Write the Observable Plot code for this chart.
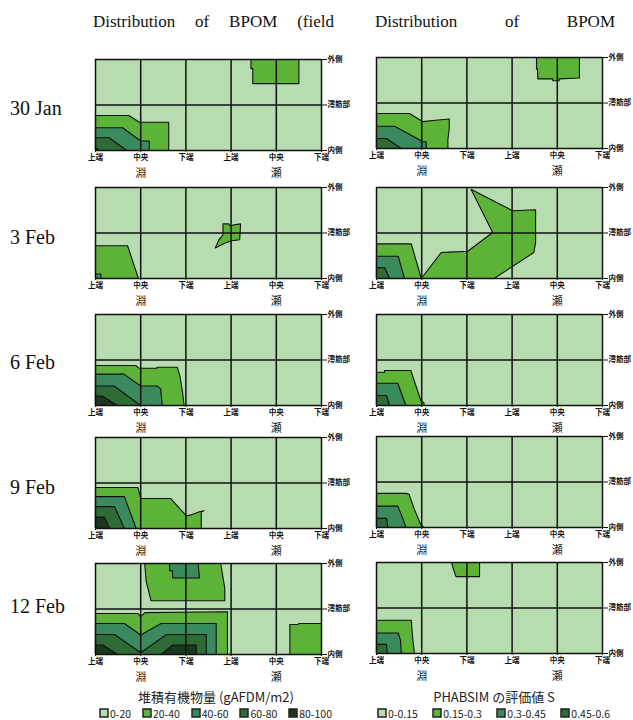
<!DOCTYPE html>
<html><head><meta charset="utf-8">
<script src="https://cdn.jsdelivr.net/npm/d3@7"></script>
<script src="https://cdn.jsdelivr.net/npm/@observablehq/plot@0.6"></script>
<style>
body{margin:0;background:#fff;}
#root{position:relative;width:633px;height:720px;overflow:hidden;font-family:"Liberation Serif",serif;color:#111;}
.panel{position:absolute;}
.title{position:absolute;display:flex;justify-content:space-between;font-size:17px;line-height:20px;}
.rowlab{position:absolute;left:10px;font-size:20px;line-height:24px;}
.legtitle{position:absolute;font-family:"Noto Sans CJK JP",sans-serif;font-size:13px;line-height:15px;text-align:center;color:#222;}
.legbox{position:absolute;font-family:"Noto Sans CJK JP",sans-serif;font-size:10.5px;color:#222;}
#root .lg-swatches{min-height:0 !important;margin:0 !important;height:14px;width:232px;justify-content:space-between;flex-wrap:nowrap;}
#root .lg-swatch{margin-right:0;}
#root .lg-swatch>svg{margin-right:2px;}
#root .lg-swatch rect{stroke:#222;stroke-width:1.5px;}
</style></head><body><div id="root"></div>
<script>
// ---------- labels ----------
const dates = ["30 Jan", "3 Feb", "6 Feb", "9 Feb", "12 Feb"];
const titleLeft = ["Distribution", "of", "BPOM", "(field"];
const titleRight = ["Distribution", "of", "BPOM"];
const xTickLabels = ["上端", "中央", "下端", "上端", "中央", "下端"];
const yTickLabels = ["内側", "澪筋部", "外側"];
const reachLabels = ["淵", "瀬"];
const reachTicks = [1, 4];
const bpomTitle = "堆積有機物量 (gAFDM/m2)";
const bpomLevels = ["0-20", "20-40", "40-60", "60-80", "80-100"];
const phabTitle = "PHABSIM の評価値 S";
const phabLevels = ["0-0.15", "0.15-0.3", "0.3-0.45", "0.45-0.6"];
const levelColors = ["#b7dcb0", "#5cb338", "#3a8a5e", "#2e6b36", "#1a381c"];

// ---------- contour regions (x: 0..5 along reach, y: 0 内側 .. 2 外側) ----------
const bpom30Jan = [
  {level: 1, pts: [[3.44,2],[4.5,2],[4.5,1.47],[3.48,1.47],[3.48,1.8],[3.44,1.8]]},
  {level: 1, pts: [[0,0],[0,0.77],[0.74,0.77],[0.97,0.62],[1.62,0.62],[1.62,0]]},
  {level: 2, pts: [[0,0],[0,0.5],[0.6,0.5],[1.0,0.21],[1.19,0.21],[1.19,0]]},
  {level: 3, pts: [[0,0],[0,0.28],[0.3,0.28],[0.69,0]]},
  {level: 4, pts: [[0,0],[0,0.06],[0.08,0]]}
];
const phab30Jan = [
  {level: 1, pts: [[3.54,2],[4.49,2],[4.49,1.55],[4.04,1.53],[4.04,1.49],[3.9,1.49],[3.9,1.53],[3.57,1.53],[3.56,1.75],[3.54,1.75]]},
  {level: 1, pts: [[0,0],[0,0.77],[0.73,0.77],[1.03,0.59],[1.3,0.62],[1.61,0.65],[1.61,0.45],[1.58,0.2],[1.58,0]]},
  {level: 2, pts: [[0,0],[0,0.49],[0.4,0.49],[1.03,0.15],[1.1,0.15],[1.1,0]]},
  {level: 3, pts: [[0,0],[0,0.22],[0.22,0.22],[0.55,0]]}
];
const bpom3Feb = [
  {level: 1, pts: [[2.82,1.2],[2.95,1.2],[2.97,1.16],[3.13,1.19],[3.21,1.2],[3.19,0.85],[3.02,0.83],[2.87,0.78],[2.65,0.67],[2.73,0.85],[2.82,0.96]]},
  {level: 1, pts: [[0,0],[0,0.72],[0.71,0.72],[0.95,0]]},
  {level: 2, pts: [[0,0],[0,0.1],[0.12,0.1],[0.12,0]]}
];
const phab3Feb = [
  {level: 1, pts: [[0.99,0],[1.43,0.57],[1.61,0.58],[2.02,0.6],[2.57,1.01],[2.09,1.96],[3.01,1.49],[3.52,1.51],[3.52,0.79],[3.48,0.57],[2.6,0]]},
  {level: 1, pts: [[0,0],[0,0.76],[0.77,0.76],[0.99,0]]},
  {level: 2, pts: [[0,0],[0,0.49],[0.48,0.49],[0.62,0]]},
  {level: 3, pts: [[0,0],[0,0.24],[0.18,0.24],[0.29,0]]}
];
const bpom6Feb = [
  {level: 1, pts: [[0,0],[0,0.88],[0.89,0.88],[0.96,0.82],[1.36,0.82],[1.36,0.84],[1.81,0.84],[1.87,0.64],[1.93,0.26],[1.96,0]]},
  {level: 2, pts: [[0,0],[0,0.69],[0.63,0.69],[1.0,0.43],[1.36,0.43],[1.44,0.37],[1.48,0]]},
  {level: 3, pts: [[0,0],[0,0.43],[0.41,0.43],[1.0,0]]},
  {level: 4, pts: [[0,0],[0,0.21],[0.15,0.21],[0.48,0]]}
];
const phab6Feb = [
  {level: 1, pts: [[0,0],[0,0.73],[0.18,0.73],[0.18,0.77],[0.76,0.77],[0.98,0.11],[1.05,0.06],[1.05,0]]},
  {level: 2, pts: [[0,0],[0,0.49],[0.47,0.49],[0.65,0]]},
  {level: 3, pts: [[0,0],[0,0.22],[0.22,0.22],[0.29,0]]}
];
const bpom9Feb = [
  {level: 1, pts: [[0,0],[0,0.9],[0.94,0.9],[1.0,0.66],[1.66,0.66],[2.01,0.28],[2.12,0.3],[2.3,0.37],[2.4,0.39],[2.34,0.36],[2.34,0]]},
  {level: 2, pts: [[0,0],[0,0.7],[0.64,0.7],[0.9,0]]},
  {level: 3, pts: [[0,0],[0,0.48],[0.42,0.48],[0.64,0]]},
  {level: 4, pts: [[0,0],[0,0.25],[0.2,0.25],[0.31,0]]}
];
const phab9Feb = [
  {level: 1, pts: [[0,0],[0,0.75],[0.65,0.75],[0.72,0.73],[0.83,0.42],[0.98,0.06],[1.05,0]]},
  {level: 2, pts: [[0,0],[0,0.47],[0.47,0.47],[0.58,0.2],[0.65,0]]},
  {level: 3, pts: [[0,0],[0,0.2],[0.22,0.2],[0.25,0]]}
];
const bpom12Feb = [
  {level: 1, pts: [[1.09,2],[2.77,2],[2.86,1.46],[2.86,1.18],[1.23,1.18],[1.12,1.61]]},
  {level: 2, pts: [[1.64,2],[2.27,2],[2.3,1.68],[1.71,1.68],[1.7,1.84],[1.64,1.84]]},
  {level: 1, pts: [[0,0],[0,0.9],[0.94,0.9],[1.0,0.83],[1.09,0.92],[2.92,0.94],[2.92,0]]},
  {level: 1, pts: [[4.3,0],[4.3,0.66],[4.48,0.66],[4.5,0.68],[5,0.68],[5,0]]},
  {level: 2, pts: [[0,0],[0,0.68],[0.64,0.68],[1.0,0.43],[1.45,0.68],[2.67,0.68],[2.67,0]]},
  {level: 3, pts: [[0,0],[0,0.44],[0.42,0.44],[1.0,0.04],[1.57,0.44],[2.45,0.44],[2.45,0]]},
  {level: 4, pts: [[0,0],[0,0.21],[0.16,0.21],[0.49,0]]},
  {level: 4, pts: [[1.45,0],[1.71,0.21],[2.23,0.21],[2.23,0]]}
];
const phab12Feb = [
  {level: 1, pts: [[1.66,2],[2.28,2],[2.28,1.69],[1.76,1.69],[1.71,1.83]]},
  {level: 1, pts: [[0,0],[0,0.73],[0.77,0.73],[0.8,0.34],[0.84,0]]},
  {level: 2, pts: [[0,0],[0,0.45],[0.48,0.45],[0.53,0.3],[0.55,0]]},
  {level: 3, pts: [[0,0],[0,0.2],[0.22,0.2],[0.24,0]]}
];
const leftPanels = [bpom30Jan, bpom3Feb, bpom6Feb, bpom9Feb, bpom12Feb];
const rightPanels = [phab30Jan, phab3Feb, phab6Feb, phab9Feb, phab12Feb];

// ---------- layout ----------
const root = document.getElementById("root");
const ML = 8, MR = 40, MT = 4, MB = 34;
const plotW = 226, plotH = 91;
const colLeft = [95, 376];
const rowTops = [[59, 187, 314, 437, 563], [57, 187, 314, 436, 562]];

function panel(regions) {
  const rows = regions.flatMap((r, i) => r.pts.map(([x, y]) => ({id: i, level: r.level, x, y})));
  const levelMarks = [1, 2, 3, 4].map(lv =>
    Plot.line(rows.filter(d => d.level === lv), {
      x: "x", y: "y", z: "id", curve: "linear-closed",
      fill: levelColors[lv], stroke: "#111", strokeWidth: 1.1
    }));
  return Plot.plot({
    width: ML + plotW + MR, height: MT + plotH + MB,
    marginLeft: ML, marginRight: MR, marginTop: MT, marginBottom: MB,
    x: {domain: [0, 5], axis: null},
    y: {domain: [0, 2], axis: null},
    style: {fontFamily: "'Noto Sans CJK JP', sans-serif", background: "transparent", overflow: "visible", color: "#111"},
    marks: [
      Plot.frame({fill: levelColors[0]}),
      ...levelMarks,
      Plot.ruleX(d3.range(6), {stroke: "#111", strokeWidth: 1.5}),
      Plot.ruleY([0, 1, 2], {stroke: "#111", strokeWidth: 1.5}),
      Plot.axisX({ticks: d3.range(6), tickFormat: i => xTickLabels[i], label: null, tickSize: 2, tickPadding: 2, fontSize: 7.5, fontWeight: "bold", stroke: "#111"}),
      Plot.text(reachLabels.map((t, i) => ({t, x: reachTicks[i]})), {x: "x", frameAnchor: "bottom", text: "t", dy: 26, fontSize: 11, fill: "#222"}),
      Plot.axisY({anchor: "right", ticks: [0, 1, 2], tickFormat: i => yTickLabels[i], label: null, tickSize: 5, tickPadding: 1, fontSize: 7.5, fontWeight: "bold", stroke: "#111"})
    ]
  });
}

[leftPanels, rightPanels].forEach((col, c) => {
  col.forEach((regions, r) => {
    const svg = panel(regions);
    svg.classList.add("panel");
    svg.style.position = "absolute";
    svg.style.left = (colLeft[c] - ML) + "px";
    svg.style.top = (rowTops[c][r] - MT) + "px";
    root.appendChild(svg);
  });
});

// titles
function titleRow(words, left, width) {
  const d = document.createElement("div");
  d.className = "title";
  d.style.left = left + "px"; d.style.top = "12px"; d.style.width = width + "px";
  words.forEach(w => { const s = document.createElement("span"); s.textContent = w; d.appendChild(s); });
  root.appendChild(d);
}
titleRow(titleLeft, 93, 241);
titleRow(titleRight, 375, 240);

// row labels
const rowCenters = [108, 237, 362, 487, 606];
dates.forEach((t, i) => {
  const d = document.createElement("div");
  d.className = "rowlab"; d.textContent = t;
  d.style.top = (rowCenters[i] - 12) + "px";
  root.appendChild(d);
});

// legends
function legend(title, levels, left, width) {
  const t = document.createElement("div");
  t.className = "legtitle"; t.textContent = title;
  t.style.left = left + "px"; t.style.width = width + "px"; t.style.top = "689px";
  root.appendChild(t);
  const box = document.createElement("div");
  box.className = "legbox";
  box.style.left = left + "px"; box.style.top = "706px";
  const lg = Plot.legend({
    color: {type: "ordinal", domain: levels, range: levelColors.slice(0, levels.length)},
    swatchSize: 8, className: "lg",
    style: {fontFamily: "'Noto Sans CJK JP', sans-serif", fontSize: "10.5px", color: "#222"}
  });
  box.appendChild(lg);
  root.appendChild(box);
}
legend(bpomTitle, bpomLevels, 100, 232);
legend(phabTitle, phabLevels, 378, 232);
</script></body></html>
